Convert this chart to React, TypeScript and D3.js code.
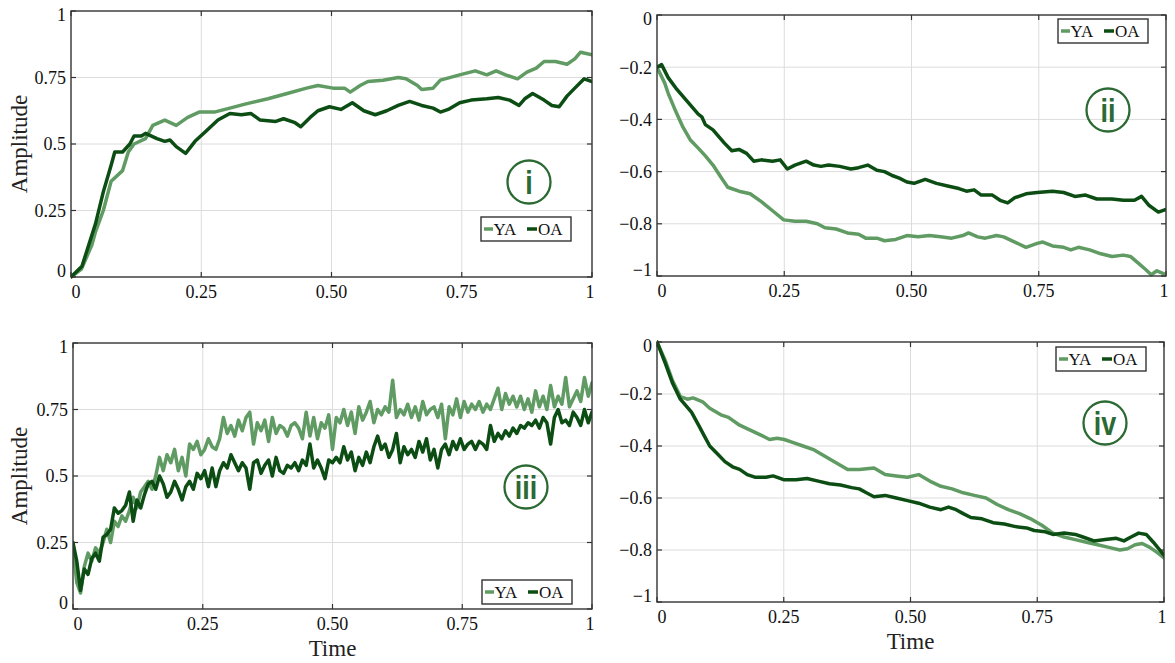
import React, { useEffect, useRef } from "react";
import * as d3 from "d3";

type Pt = [number, number];

const YA_COLOR = "#5f9b62";
const OA_COLOR = "#0c4d14";
const MARK_COLOR = "#2b6a33";

const xTicks = [0, 0.25, 0.5, 0.75, 1];
const xTickLabels = ["0", "0.25", "0.50", "0.75", "1"];
const posTicks = [0, 0.25, 0.5, 0.75, 1];
const posTickLabels = ["0", "0.25", "0.5", "0.75", "1"];
const negTicks = [-1, -0.8, -0.6, -0.4, -0.2, 0];
const negTickLabels = ["\u22121", "\u22120.8", "\u22120.6", "\u22120.4", "\u22120.2", "0"];

// panel i : [time, amplitude]
const iYA: Pt[] = [
  [0, 0], [0.02, 0.03], [0.04, 0.12], [0.047, 0.17], [0.062, 0.25], [0.077, 0.36],
  [0.099, 0.4], [0.11, 0.47], [0.121, 0.5], [0.143, 0.52], [0.157, 0.57], [0.18, 0.59],
  [0.202, 0.57], [0.224, 0.6], [0.246, 0.62], [0.275, 0.62], [0.305, 0.635], [0.334, 0.65],
  [0.378, 0.67], [0.415, 0.69], [0.452, 0.71], [0.474, 0.72], [0.503, 0.71], [0.525, 0.71],
  [0.536, 0.695], [0.555, 0.72], [0.57, 0.735], [0.599, 0.74], [0.628, 0.75], [0.643, 0.745],
  [0.665, 0.72], [0.673, 0.705], [0.695, 0.71], [0.709, 0.74], [0.746, 0.76], [0.776, 0.775],
  [0.798, 0.76], [0.816, 0.775], [0.834, 0.76], [0.857, 0.745], [0.875, 0.77], [0.893, 0.785],
  [0.908, 0.81], [0.93, 0.81], [0.952, 0.8], [0.967, 0.82], [0.978, 0.845], [1, 0.835],
];
const iOA: Pt[] = [
  [0, 0], [0.021, 0.04], [0.047, 0.2], [0.062, 0.32], [0.077, 0.42], [0.084, 0.47],
  [0.099, 0.47], [0.113, 0.5], [0.121, 0.53], [0.135, 0.53], [0.143, 0.54], [0.165, 0.52],
  [0.18, 0.51], [0.19, 0.515], [0.202, 0.49], [0.22, 0.465], [0.238, 0.51], [0.26, 0.55],
  [0.282, 0.59], [0.305, 0.615], [0.327, 0.61], [0.345, 0.615], [0.363, 0.59], [0.393, 0.585],
  [0.408, 0.595], [0.43, 0.58], [0.441, 0.565], [0.459, 0.6], [0.474, 0.625], [0.496, 0.64],
  [0.518, 0.63], [0.54, 0.655], [0.562, 0.625], [0.584, 0.61], [0.606, 0.625], [0.628, 0.645],
  [0.65, 0.66], [0.673, 0.645], [0.695, 0.635], [0.709, 0.62], [0.724, 0.63], [0.746, 0.655],
  [0.768, 0.665], [0.798, 0.67], [0.82, 0.675], [0.842, 0.665], [0.86, 0.645], [0.871, 0.67],
  [0.886, 0.69], [0.908, 0.665], [0.923, 0.645], [0.937, 0.64], [0.952, 0.68], [0.967, 0.71],
  [0.985, 0.745], [1, 0.735],
];

// panel ii
const iiYA: Pt[] = [
  [0, -0.2], [0.015, -0.26], [0.022, -0.3], [0.037, -0.37], [0.051, -0.43], [0.066, -0.48],
  [0.081, -0.51], [0.095, -0.54], [0.11, -0.575], [0.125, -0.62], [0.139, -0.66], [0.161, -0.675],
  [0.183, -0.685], [0.205, -0.715], [0.227, -0.75], [0.249, -0.785], [0.271, -0.79], [0.293, -0.79],
  [0.315, -0.8], [0.33, -0.815], [0.352, -0.82], [0.374, -0.835], [0.396, -0.84], [0.41, -0.855],
  [0.432, -0.855], [0.447, -0.865], [0.469, -0.86], [0.491, -0.845], [0.513, -0.85], [0.535, -0.845],
  [0.557, -0.85], [0.579, -0.855], [0.601, -0.845], [0.612, -0.835], [0.63, -0.85], [0.645, -0.855],
  [0.667, -0.845], [0.681, -0.85], [0.703, -0.87], [0.725, -0.89], [0.747, -0.875], [0.758, -0.87],
  [0.777, -0.885], [0.799, -0.89], [0.813, -0.9], [0.828, -0.89], [0.85, -0.9], [0.872, -0.915],
  [0.894, -0.925], [0.916, -0.92], [0.93, -0.925], [0.945, -0.95], [0.96, -0.975], [0.971, -0.995],
  [0.982, -0.98], [1, -0.995],
];
const iiOA: Pt[] = [
  [0, -0.2], [0.009, -0.19], [0.022, -0.24], [0.037, -0.28], [0.059, -0.33], [0.081, -0.38],
  [0.088, -0.39], [0.095, -0.42], [0.11, -0.44], [0.132, -0.49], [0.147, -0.52], [0.161, -0.515],
  [0.176, -0.53], [0.19, -0.56], [0.205, -0.555], [0.227, -0.56], [0.242, -0.555], [0.256, -0.59],
  [0.271, -0.575], [0.293, -0.56], [0.308, -0.575], [0.322, -0.58], [0.337, -0.575], [0.359, -0.58],
  [0.381, -0.59], [0.396, -0.585], [0.414, -0.575], [0.432, -0.595], [0.447, -0.6], [0.462, -0.615],
  [0.476, -0.625], [0.491, -0.64], [0.505, -0.645], [0.527, -0.63], [0.549, -0.645], [0.571, -0.655],
  [0.593, -0.665], [0.608, -0.675], [0.623, -0.67], [0.637, -0.69], [0.659, -0.69], [0.674, -0.71],
  [0.689, -0.72], [0.703, -0.7], [0.725, -0.685], [0.747, -0.68], [0.777, -0.675], [0.799, -0.68],
  [0.821, -0.695], [0.842, -0.69], [0.864, -0.705], [0.894, -0.705], [0.916, -0.71], [0.938, -0.71],
  [0.952, -0.695], [0.967, -0.73], [0.985, -0.755], [1, -0.745],
];

// panel iii (evenly sampled over [0, 1])
const iiiYA = [
  0.23, 0.1, 0.06, 0.16, 0.21, 0.18, 0.23, 0.21, 0.25, 0.3,
  0.25, 0.33, 0.31, 0.35, 0.33, 0.37, 0.42, 0.38, 0.44, 0.46,
  0.48, 0.45, 0.5, 0.57, 0.52, 0.58, 0.55, 0.6, 0.52, 0.57,
  0.5, 0.62, 0.6, 0.63, 0.58, 0.6, 0.64, 0.61, 0.6, 0.64,
  0.72, 0.66, 0.69, 0.65, 0.71, 0.67, 0.72, 0.74, 0.62, 0.7,
  0.67, 0.71, 0.63, 0.72, 0.66, 0.69, 0.68, 0.65, 0.69, 0.7,
  0.68, 0.64, 0.74, 0.65, 0.72, 0.64, 0.7, 0.68, 0.73, 0.6,
  0.72, 0.7, 0.75, 0.69, 0.74, 0.66, 0.76, 0.71, 0.74, 0.78,
  0.7, 0.75, 0.73, 0.76, 0.74, 0.86, 0.72, 0.75, 0.73, 0.77,
  0.72, 0.76, 0.71, 0.78, 0.73, 0.75, 0.76, 0.72, 0.77, 0.64,
  0.76, 0.73, 0.79, 0.72, 0.78, 0.74, 0.77, 0.75, 0.78, 0.74,
  0.77, 0.75, 0.79, 0.83, 0.75, 0.81, 0.77, 0.8, 0.76, 0.8,
  0.75, 0.79, 0.74, 0.82, 0.76, 0.8, 0.75, 0.84, 0.76, 0.8,
  0.77, 0.87, 0.76, 0.79, 0.82, 0.78, 0.87, 0.8, 0.85,
];
const iiiOA = [
  0.25, 0.18, 0.07, 0.15, 0.13, 0.19, 0.21, 0.18, 0.27, 0.28,
  0.3, 0.38, 0.36, 0.37, 0.39, 0.44, 0.33, 0.41, 0.38, 0.43,
  0.47, 0.48, 0.45, 0.5, 0.47, 0.42, 0.44, 0.48, 0.45, 0.41,
  0.46, 0.48, 0.45, 0.51, 0.49, 0.52, 0.46, 0.53, 0.46, 0.52,
  0.55, 0.53, 0.58, 0.55, 0.52, 0.55, 0.53, 0.45, 0.55, 0.56,
  0.51, 0.54, 0.56, 0.5, 0.57, 0.52, 0.51, 0.54, 0.53, 0.55,
  0.52, 0.56, 0.54, 0.62, 0.53, 0.56, 0.53, 0.49, 0.56, 0.55,
  0.57, 0.55, 0.61, 0.56, 0.59, 0.52, 0.57, 0.54, 0.59, 0.55,
  0.61, 0.65, 0.6, 0.62, 0.57, 0.6, 0.66, 0.55, 0.61, 0.58,
  0.6, 0.57, 0.63, 0.59, 0.64, 0.56, 0.6, 0.53, 0.6, 0.62,
  0.58, 0.63, 0.6, 0.64, 0.6, 0.62, 0.63, 0.6, 0.63, 0.62,
  0.6, 0.69, 0.63, 0.66, 0.64, 0.67, 0.65, 0.68, 0.66, 0.69,
  0.68, 0.7, 0.69, 0.71, 0.68, 0.72, 0.7, 0.62, 0.72, 0.75,
  0.7, 0.71, 0.69, 0.74, 0.72, 0.69, 0.75, 0.7, 0.74,
];

// panel iv
const ivYA: Pt[] = [
  [0, 0], [0.016, -0.07], [0.031, -0.15], [0.046, -0.21], [0.06, -0.22], [0.071, -0.215],
  [0.09, -0.23], [0.104, -0.255], [0.126, -0.28], [0.141, -0.29], [0.163, -0.32], [0.185, -0.34],
  [0.207, -0.36], [0.222, -0.375], [0.237, -0.37], [0.251, -0.375], [0.266, -0.385], [0.288, -0.4],
  [0.31, -0.415], [0.332, -0.44], [0.354, -0.465], [0.376, -0.49], [0.399, -0.49], [0.428, -0.485],
  [0.45, -0.51], [0.472, -0.515], [0.494, -0.52], [0.516, -0.51], [0.538, -0.535], [0.56, -0.555],
  [0.582, -0.565], [0.604, -0.58], [0.626, -0.59], [0.649, -0.6], [0.671, -0.625], [0.693, -0.645],
  [0.715, -0.66], [0.737, -0.68], [0.759, -0.705], [0.781, -0.735], [0.803, -0.75], [0.825, -0.76],
  [0.847, -0.77], [0.869, -0.78], [0.891, -0.79], [0.913, -0.8], [0.928, -0.795], [0.943, -0.78],
  [0.957, -0.775], [0.972, -0.79], [0.987, -0.81], [1, -0.83],
];
const ivOA: Pt[] = [
  [0, 0], [0.016, -0.08], [0.031, -0.16], [0.046, -0.22], [0.057, -0.245], [0.068, -0.27],
  [0.082, -0.32], [0.093, -0.36], [0.104, -0.4], [0.119, -0.43], [0.134, -0.46], [0.149, -0.48],
  [0.163, -0.49], [0.178, -0.51], [0.193, -0.52], [0.215, -0.52], [0.229, -0.515], [0.251, -0.53],
  [0.274, -0.53], [0.296, -0.525], [0.318, -0.535], [0.34, -0.545], [0.362, -0.55], [0.384, -0.56],
  [0.399, -0.565], [0.413, -0.58], [0.428, -0.595], [0.45, -0.59], [0.472, -0.6], [0.494, -0.61],
  [0.516, -0.62], [0.538, -0.635], [0.56, -0.645], [0.575, -0.635], [0.59, -0.645], [0.604, -0.66],
  [0.619, -0.675], [0.641, -0.68], [0.663, -0.695], [0.685, -0.7], [0.707, -0.71], [0.729, -0.715],
  [0.744, -0.725], [0.766, -0.73], [0.781, -0.74], [0.803, -0.735], [0.825, -0.74], [0.84, -0.75],
  [0.862, -0.765], [0.884, -0.76], [0.906, -0.755], [0.921, -0.765], [0.935, -0.75], [0.95, -0.735],
  [0.965, -0.74], [0.979, -0.77], [1, -0.82],
];

const evenly = (vals: number[]): Pt[] => vals.map((v, i) => [i / (vals.length - 1), v]);

interface PanelSpec {
  id: string;
  box: { left: number; right: number; top: number; bottom: number };
  yDomain: [number, number];
  yTicks: number[];
  yLabels: string[];
  ya: Pt[];
  oa: Pt[];
  legend: [number, number];
  mark: { x: number; y: number; label: string };
  yTitle: boolean;
  xTitle: boolean;
}

const panels: PanelSpec[] = [
  {
    id: "i", box: { left: 71, right: 592, top: 11, bottom: 277 },
    yDomain: [0, 1], yTicks: posTicks, yLabels: posTickLabels,
    ya: iYA, oa: iOA, legend: [481, 217], mark: { x: 529, y: 182, label: "i" },
    yTitle: true, xTitle: false,
  },
  {
    id: "ii", box: { left: 657, right: 1166, top: 15, bottom: 276 },
    yDomain: [-1, 0], yTicks: negTicks, yLabels: negTickLabels,
    ya: iiYA, oa: iiOA, legend: [1058, 19], mark: { x: 1108, y: 110, label: "ii" },
    yTitle: false, xTitle: false,
  },
  {
    id: "iii", box: { left: 73, right: 592, top: 343, bottom: 609 },
    yDomain: [0, 1], yTicks: posTicks, yLabels: posTickLabels,
    ya: evenly(iiiYA), oa: evenly(iiiOA), legend: [482, 580], mark: { x: 526, y: 487, label: "iii" },
    yTitle: true, xTitle: true,
  },
  {
    id: "iv", box: { left: 657, right: 1164, top: 342, bottom: 602 },
    yDomain: [-1, 0], yTicks: negTicks, yLabels: negTickLabels,
    ya: ivYA, oa: ivOA, legend: [1056, 347], mark: { x: 1105, y: 423, label: "iv" },
    yTitle: false, xTitle: true,
  },
];

const serif = "'Liberation Serif', 'DejaVu Serif', serif";

export default function App() {
  const svgRef = useRef<SVGSVGElement>(null);

  useEffect(() => {
    if (!svgRef.current) return;
    const svg = d3.select(svgRef.current);
    svg.selectAll("*").remove();

    panels.forEach((p) => {
      const { left, right, top, bottom } = p.box;
      const x = d3.scaleLinear().domain([0, 1]).range([left, right]);
      const y = d3.scaleLinear().domain(p.yDomain).range([bottom, top]);
      const g = svg.append("g");

      // grid
      g.append("g")
        .attr("stroke", "#dcdcdc")
        .attr("stroke-width", 1)
        .selectAll("line")
        .data(xTicks.slice(1, -1))
        .join("line")
        .attr("x1", (d) => x(d))
        .attr("x2", (d) => x(d))
        .attr("y1", top)
        .attr("y2", bottom);
      g.append("g")
        .attr("stroke", "#dcdcdc")
        .attr("stroke-width", 1)
        .selectAll("line")
        .data(p.yTicks.slice(1, -1))
        .join("line")
        .attr("x1", left)
        .attr("x2", right)
        .attr("y1", (d) => y(d))
        .attr("y2", (d) => y(d));

      // tick marks (inward, both sides)
      const tk = g.append("g").attr("stroke", "#333").attr("stroke-width", 1.2);
      p.yTicks.forEach((t) => {
        tk.append("line").attr("x1", left).attr("x2", left + 5).attr("y1", y(t)).attr("y2", y(t));
        tk.append("line").attr("x1", right).attr("x2", right - 5).attr("y1", y(t)).attr("y2", y(t));
      });
      xTicks.forEach((t) => {
        tk.append("line").attr("x1", x(t)).attr("x2", x(t)).attr("y1", bottom).attr("y2", bottom - 5);
        tk.append("line").attr("x1", x(t)).attr("x2", x(t)).attr("y1", top).attr("y2", top + 5);
      });

      // data
      const clipId = `clip-${p.id}`;
      svg.append("defs").append("clipPath").attr("id", clipId)
        .append("rect").attr("x", left).attr("y", top - 2)
        .attr("width", right - left).attr("height", bottom - top + 4);
      const line = d3.line<Pt>().x((d) => x(d[0])).y((d) => y(d[1]));
      const lines = g.append("g").attr("clip-path", `url(#${clipId})`)
        .attr("fill", "none").attr("stroke-width", 3.5)
        .attr("stroke-linejoin", "round").attr("stroke-linecap", "round");
      lines.append("path").attr("stroke", YA_COLOR).attr("d", line(p.ya));
      lines.append("path").attr("stroke", OA_COLOR).attr("d", line(p.oa));

      // frame
      g.append("rect")
        .attr("x", left).attr("y", top)
        .attr("width", right - left).attr("height", bottom - top)
        .attr("fill", "none").attr("stroke", "#333").attr("stroke-width", 1.4);

      // tick labels
      const nY = p.yTicks.length;
      g.append("g")
        .attr("font-family", serif).attr("font-size", 18).attr("fill", "#111")
        .attr("text-anchor", "end")
        .selectAll("text")
        .data(p.yTicks)
        .join("text")
        .attr("x", left - 5)
        .attr("y", (d, i) => y(d) + (i === 0 ? -6 : i === nY - 1 ? 4 : 0))
        .attr("dy", "0.35em")
        .text((_, i) => p.yLabels[i]);
      g.append("g")
        .attr("font-family", serif).attr("font-size", 18).attr("fill", "#111")
        .attr("text-anchor", "middle")
        .selectAll("text")
        .data(xTicks)
        .join("text")
        .attr("x", (d, i) => x(d) + (i === 0 ? 5 : i === xTicks.length - 1 ? -2 : 0))
        .attr("y", bottom + 15)
        .attr("dy", "0.35em")
        .text((_, i) => xTickLabels[i]);

      if (p.yTitle) {
        g.append("text")
          .attr("transform", `translate(19,${(top + bottom) / 2}) rotate(-90)`)
          .attr("text-anchor", "middle").attr("dy", "0.35em")
          .attr("font-family", serif).attr("font-size", 23).attr("fill", "#222")
          .text("Amplitude");
      }
      if (p.xTitle) {
        g.append("text")
          .attr("x", (left + right) / 2).attr("y", bottom + 39)
          .attr("text-anchor", "middle").attr("dy", "0.35em")
          .attr("font-family", serif).attr("font-size", 23).attr("fill", "#222")
          .text("Time");
      }

      // legend
      const [lx, ly] = p.legend;
      const lg = g.append("g").attr("transform", `translate(${lx},${ly})`);
      lg.append("rect").attr("width", 90).attr("height", 24)
        .attr("fill", "#fff").attr("stroke", "#333").attr("stroke-width", 1.4);
      lg.append("line").attr("x1", 3).attr("x2", 12).attr("y1", 12).attr("y2", 12)
        .attr("stroke", YA_COLOR).attr("stroke-width", 3.5);
      lg.append("text").attr("x", 12.5).attr("y", 12).attr("dy", "0.35em")
        .attr("font-family", serif).attr("font-size", 17).attr("fill", "#111").text("YA");
      lg.append("line").attr("x1", 46).attr("x2", 56).attr("y1", 12).attr("y2", 12)
        .attr("stroke", OA_COLOR).attr("stroke-width", 3.5);
      lg.append("text").attr("x", 57).attr("y", 12).attr("dy", "0.35em")
        .attr("font-family", serif).attr("font-size", 17).attr("fill", "#111").text("OA");

      // panel mark
      const mk = g.append("g").attr("transform", `translate(${p.mark.x},${p.mark.y})`);
      mk.append("circle").attr("r", 21.5).attr("fill", "none")
        .attr("stroke", MARK_COLOR).attr("stroke-width", 2.3);
      mk.append("text").attr("text-anchor", "middle").attr("dy", "0.36em")
        .attr("transform", "scale(0.9,1.08)")
        .attr("font-family", "'Liberation Sans Narrow', 'Liberation Sans', Arial, sans-serif")
        .attr("font-weight", "bold").attr("font-size", 30).attr("fill", MARK_COLOR)
        .text(p.mark.label);
    });
  }, []);

  return (
    <svg
      ref={svgRef}
      width={1175}
      height={663}
      style={{ position: "absolute", left: 0, top: 0, background: "#fff" }}
    />
  );
}
